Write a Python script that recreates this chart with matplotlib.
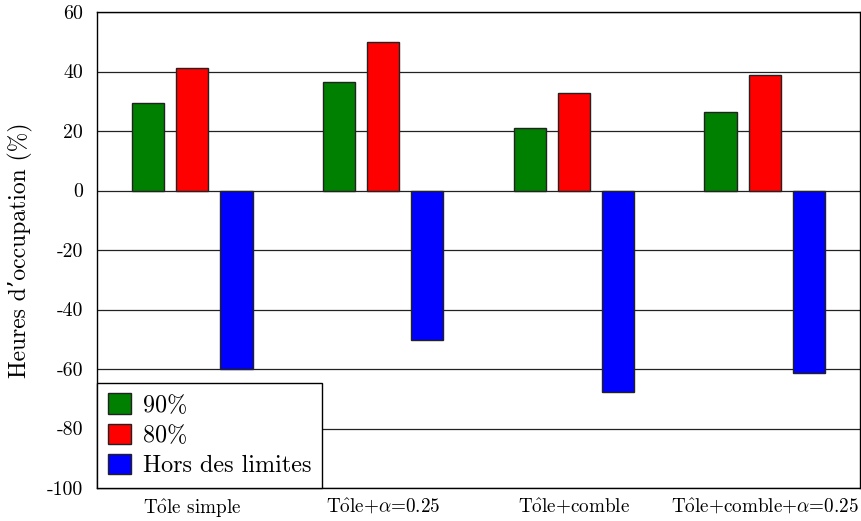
import matplotlib
matplotlib.use("Agg")
import matplotlib.pyplot as plt
import numpy as np

categories = [r"T$\hat{\mathrm{o}}$le simple", r"T$\hat{\mathrm{o}}$le+$\alpha$=0.25",
              r"T$\hat{\mathrm{o}}$le+comble", r"T$\hat{\mathrm{o}}$le+comble+$\alpha$=0.25"]
series_names = ["90%", "80%", "Hors des limites"]
vals_90 = [29.5, 36.5, 21.0, 26.4]
vals_80 = [41.1, 49.9, 32.7, 38.8]
vals_hors = [-60.0, -50.4, -67.7, -61.3]
yticks = [-100, -80, -60, -40, -20, 0, 20, 40, 60]

plt.rcParams['mathtext.fontset'] = 'cm'
plt.rcParams['font.family'] = ['cmr10', 'DejaVu Serif']
plt.rcParams['axes.unicode_minus'] = False
plt.rcParams['axes.formatter.use_mathtext'] = False

fig = plt.figure(figsize=(8.61, 5.21), dpi=100)
ax = fig.add_axes([97/861, 33/521, 763/861, 476/521])

x = np.arange(len(categories))
w = 32/190
off = 44/190
colors = ['#008000', '#ff0000', '#0000ff']
for i, (vals, name) in enumerate(zip([vals_90, vals_80, vals_hors], series_names)):
    ax.bar(x + (i - 1) * off, vals, width=w, color=colors[i], edgecolor='#222222',
           linewidth=1.0, label=name, zorder=2)

ax.set_xlim(-0.5, 3.5)
ax.set_ylim(-100, 60)
ax.set_yticks(yticks)
ax.set_yticklabels([str(v) for v in yticks], fontsize=14.3)
ax.set_xticks(x)
ax.set_xticklabels(categories, fontsize=13.8)
ax.tick_params(axis='both', length=0)
ax.tick_params(axis='y', pad=10)
ax.tick_params(axis='x', pad=7)
ax.yaxis.grid(True, color='#222222', linewidth=0.9, zorder=0)
ax.set_axisbelow(True)
for s in ax.spines.values():
    s.set_linewidth(1.0)
    s.set_color('black')
ax.set_ylabel("Heures d’occupation (%)", fontsize=17, labelpad=10)

leg = ax.legend(loc='lower left', borderaxespad=0, fontsize=17.4, fancybox=False,
                framealpha=1, edgecolor='black', handlelength=0.95, handleheight=0.9,
                handletextpad=0.5, labelspacing=0.28, borderpad=0.45)
leg.get_frame().set_linewidth(1.0)

fig.savefig("out.png", dpi=100)
